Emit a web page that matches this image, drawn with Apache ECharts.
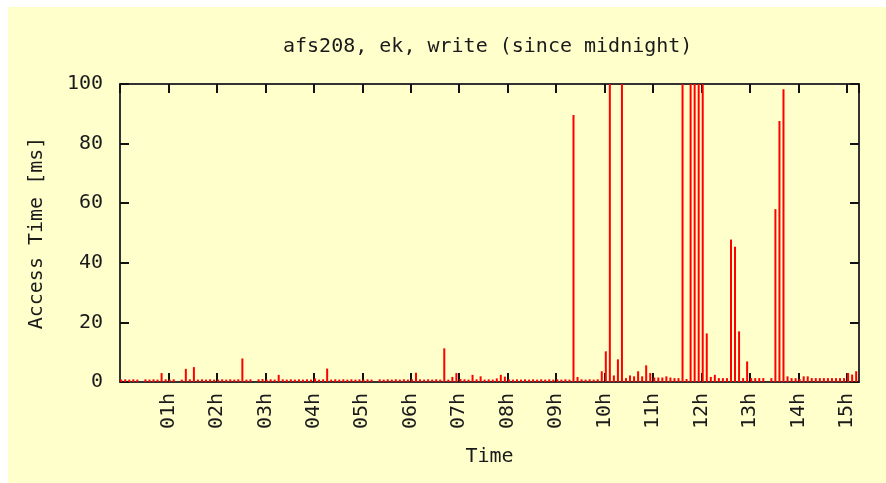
<!DOCTYPE html>
<html>
<head>
<meta charset="utf-8">
<title>afs208, ek, write (since midnight)</title>
<script src="https://cdn.jsdelivr.net/npm/echarts@6/dist/echarts.min.js"></script>
<style>
  html, body { margin: 0; padding: 0; background: #ffffff; }
  #chart { position: absolute; left: 8px; top: 7px; width: 878px; height: 476px; background: #ffffcc; }
</style>
</head>
<body>
<div id="chart"></div>
<script>
// Write access time samples for afs208 (ek), one every 5 minutes since midnight, in ms.
// Values above 100 ms run off the top of the plot.
const firstSampleMin = 1.5;
const sampleStepMin = 5;
const accessMs = [
  0.8, 0.9, 0.8, 0.9, 0.8, 0,   0.9, 0.8, 0.9, 0.8,   // 00:00
  3.0, 0.9, 0.8, 0.9, 0,   0.8, 4.4, 0.9, 5.0, 0.8,
  0.9, 0.8, 0.9, 0.8, 0.8, 0.9, 0.8, 0.9, 0.8, 0.9,
  7.9, 0.8, 0.9, 0,   0.9, 1.0, 0.8, 0.9, 0.8, 2.4,
  0.9, 0.8, 0.9, 0.8, 0.9, 0.8, 0.9, 0.8, 1.2, 0.8,
  0.9, 4.5, 0.8, 0.9, 0.8, 0.9, 0.8, 0.9, 0.8, 0.9,
  0.8, 0.9, 0.8, 0,   0.9, 0.8, 0.9, 0.8, 0.9, 0.8,
  0.9, 0.8, 0.9, 3.1, 0.9, 0.8, 0.9, 0.8, 0.9, 0.8,
  11.3, 0.8, 1.7, 3.0, 1.0, 0.9, 0.8, 2.4, 0.9, 1.9,
  0.8, 0.9, 0.8, 1.2, 2.4, 1.8, 0.9, 0.8, 0.9, 0.8,
  0.9, 0.8, 0.9, 0.8, 0.9, 0.8, 0.9, 0.8, 0.9, 0.8,
  0.9, 0.8, 89.6, 1.7, 0.9, 0.8, 0.9, 0.8, 0.9, 3.6,
  10.3, 135, 2.2, 7.6, 140, 1.3, 2.2, 1.9, 3.6, 1.9,
  5.6, 3.0, 1.5, 1.5, 1.5, 1.9, 1.5, 1.3, 1.3, 150,
  1.0, 160, 145, 170, 130, 16.3, 1.7, 2.4, 1.3, 1.3,
  1.3, 47.8, 45.4, 17.0, 1.3, 6.9, 1.3, 1.3, 1.3, 1.3,
  0,   1.3, 58.0, 87.6, 98.2, 1.9, 1.3, 1.3, 1.0, 1.9,
  1.9, 1.3, 1.3, 1.3, 1.3, 1.3, 1.3, 1.3, 1.3, 1.3,
  3.0, 2.5, 3.6
];
const hourTicks = [1, 2, 3, 4, 5, 6, 7, 8, 9, 10, 11, 12, 13, 14, 15];
const hourLabels = ['01h', '02h', '03h', '04h', '05h', '06h', '07h', '08h', '09h', '10h', '11h', '12h', '13h', '14h', '15h'];
const msTicks = [0, 20, 40, 60, 80, 100];

const FONT = '"DejaVu Sans Mono", "Liberation Mono", monospace';
const INK = '#1a1a1a';

// [hours since midnight, ms] pairs
const points = accessMs.map((v, i) => [(firstSampleMin + i * sampleStepMin) / 60, v]);

const hourLabel = v => {
  const k = hourTicks.indexOf(Math.round(v));
  return (Math.abs(v - Math.round(v)) < 1e-6 && k >= 0) ? hourLabels[k] : '';
};

// Every axis forms one side of the frame, so none of them snaps to zero.
const frameLine = () => ({ show: true, onZero: false, lineStyle: { color: '#333333', width: 2 } });
const innerTick = () => ({ show: true, inside: true, length: 9, lineStyle: { color: '#111111', width: 2 } });

const chart = echarts.init(document.getElementById('chart'), null, { renderer: 'canvas' });
chart.setOption({
  animation: false,
  backgroundColor: '#ffffcc',
  title: {
    text: 'afs208, ek, write (since midnight)',
    left: 270,
    top: 25,
    textStyle: { fontFamily: FONT, fontSize: 20, fontWeight: 'normal', color: INK }
  },
  grid: { left: 112, top: 77, width: 739, height: 298 },
  xAxis: [
    {
      type: 'value', position: 'bottom', min: 0, max: 15.25, interval: 1,
      name: 'Time', nameLocation: 'middle', nameGap: 65,
      nameTextStyle: { fontFamily: FONT, fontSize: 20, color: INK },
      axisLine: frameLine(), axisTick: innerTick(), splitLine: { show: false },
      axisLabel: {
        rotate: 90, margin: 11, showMinLabel: false, showMaxLabel: false,
        fontFamily: FONT, fontSize: 20, color: INK, formatter: hourLabel
      }
    },
    {
      type: 'value', position: 'top', min: 0, max: 15.25, interval: 1,
      axisLine: frameLine(), axisTick: innerTick(), splitLine: { show: false },
      axisLabel: { show: false }
    }
  ],
  yAxis: [
    {
      type: 'value', position: 'left', min: msTicks[0], max: msTicks[msTicks.length - 1], interval: msTicks[1] - msTicks[0],
      name: 'Access Time [ms]', nameLocation: 'middle', nameGap: 73, nameRotate: 90,
      nameTextStyle: { fontFamily: FONT, fontSize: 20, color: INK },
      axisLine: frameLine(), axisTick: innerTick(), splitLine: { show: false },
      axisLabel: { margin: 17, fontFamily: FONT, fontSize: 20, color: INK }
    },
    {
      type: 'value', position: 'right', min: msTicks[0], max: msTicks[msTicks.length - 1], interval: msTicks[1] - msTicks[0],
      axisLine: frameLine(), axisTick: innerTick(), splitLine: { show: false },
      axisLabel: { show: false }
    }
  ],
  series: [
    {
      type: 'bar',
      xAxisIndex: 0,
      yAxisIndex: 0,
      data: points,
      barWidth: 2,
      clip: true,
      itemStyle: { color: '#ff0000' },
      z: 1
    }
  ]
});
</script>
</body>
</html>
